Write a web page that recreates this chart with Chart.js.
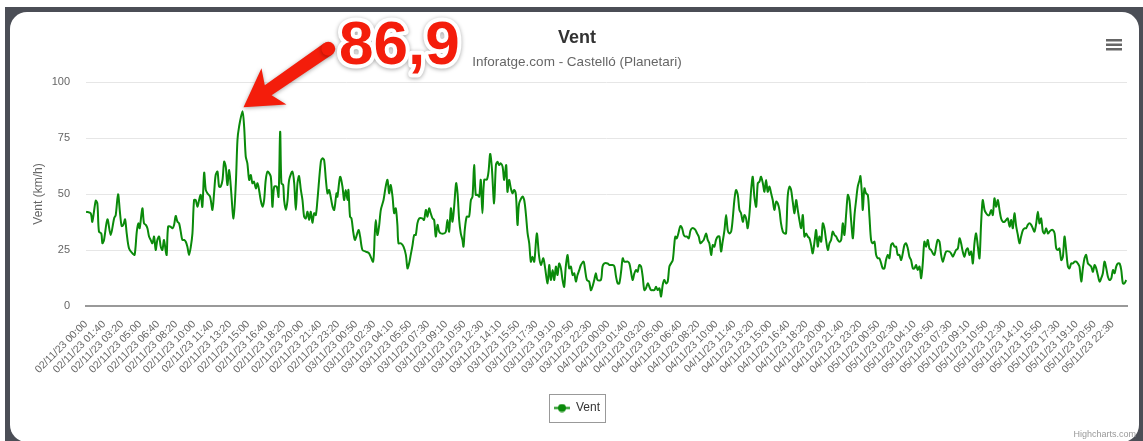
<!DOCTYPE html>
<html>
<head>
<meta charset="utf-8">
<script src="https://cdn.jsdelivr.net/npm/chart.js@4/dist/chart.umd.min.js"></script>
<style>
html, body { margin: 0; padding: 0; background: #fff; width: 1143px; height: 441px; overflow: hidden; }
#marco { position: absolute; left: 5px; top: 7px; right: 0; bottom: 0; background: #4b4e56; }
#tarjeta { position: absolute; left: 10px; top: 12px; width: 1129px; height: 430px; background: #fff; border-radius: 17px; }
#grafico { position: absolute; left: 0; top: 0; }
</style>
</head>
<body>
<div id="marco"></div>
<div id="tarjeta"></div>
<canvas id="grafico" width="1143" height="441"></canvas>
<script>
/* Etiquetas del eje X (una cada 10 lecturas) */
var etiquetas = [
  '02/11/23 00:00', '02/11/23 01:40', '02/11/23 03:20', '02/11/23 05:00', '02/11/23 06:40', '02/11/23 08:20', '02/11/23 10:00', '02/11/23 11:40',
  '02/11/23 13:20', '02/11/23 15:00', '02/11/23 16:40', '02/11/23 18:20', '02/11/23 20:00', '02/11/23 21:40', '02/11/23 23:20',
  '03/11/23 00:50', '03/11/23 02:30', '03/11/23 04:10', '03/11/23 05:50', '03/11/23 07:30', '03/11/23 09:10', '03/11/23 10:50',
  '03/11/23 12:30', '03/11/23 14:10', '03/11/23 15:50', '03/11/23 17:30', '03/11/23 19:10', '03/11/23 20:50', '03/11/23 22:30',
  '04/11/23 00:00', '04/11/23 01:40', '04/11/23 03:20', '04/11/23 05:00', '04/11/23 06:40', '04/11/23 08:20', '04/11/23 10:00', '04/11/23 11:40',
  '04/11/23 13:20', '04/11/23 15:00', '04/11/23 16:40', '04/11/23 18:20', '04/11/23 20:00', '04/11/23 21:40', '04/11/23 23:20',
  '05/11/23 00:50', '05/11/23 02:30', '05/11/23 04:10', '05/11/23 05:50', '05/11/23 07:30', '05/11/23 09:10', '05/11/23 10:50',
  '05/11/23 12:30', '05/11/23 14:10', '05/11/23 15:50', '05/11/23 17:30', '05/11/23 19:10', '05/11/23 20:50', '05/11/23 22:30'
];

/* Lecturas de viento: [número de lectura, km/h] */
var ventDia2 = [
  [0,42.1],[2.6,41.4],[3.5,37.6],[5.4,47.0],[6.3,45.8],[7.2,33.2],[8.5,32.4],[9.1,28.0],[10.0,29.5],[11.9,38.7],[13.7,31.7],[15.6,39.1],
  [16.5,40.6],[17.8,49.9],[18.9,41.4],[19.8,35.7],[20.7,36.2],[21.7,38.7],[22.6,32.4],[23.9,25.7],[25.8,23.5],[27.0,22.8],[28.2,33.2],
  [29.1,36.9],[29.8,34.7],[31.3,43.6],[32.2,36.9],[33.2,36.2],[34.1,34.7],[35.0,31.0],[35.9,29.5],[36.9,28.0],[37.8,31.0],[38.7,25.0],
  [39.6,29.5],[40.6,31.0],[41.5,26.5],[42.4,25.0],[43.3,29.5],[44.3,24.3],[44.8,22.8],[45.6,35.4],[47.0,35.4],[48.0,34.7],[48.9,36.2],
  [49.8,40.2],[50.8,37.6],[51.7,36.9],[52.6,33.2],[53.5,29.5],[54.5,29.5],[55.4,28.7],[56.3,26.5],[57.2,22.8],[58.2,26.5],[59.1,32.4],
  [60.0,47.3],[60.9,47.3],[61.9,44.3],[62.8,47.3],[63.7,49.6],[64.6,44.3],[65.6,59.5],[66.5,51.8],[67.4,50.3],[68.9,48.8],[70.2,42.9],
  [71.1,50.3],[72.0,58.5],[73.0,60.0],[73.9,53.3],[74.8,53.3],[75.8,56.3],[76.7,64.4],[77.6,62.2],[78.5,54.0],[79.5,60.7],[80.4,53.3],
  [81.9,39.1],[83.2,54.8],[84.1,74.1],[85.0,80.1],[86.9,86.9],[87.8,80.1],[88.7,66.7],[89.6,63.7],[90.6,56.3],[91.5,58.5],[92.4,54.8],
  [93.3,55.5],[94.3,52.5],[95.2,54.8],[96.1,51.8],[97.0,47.3],[98.0,44.3],[98.9,47.3],[99.8,56.3],[100.8,60.0],[102.6,57.7],[103.5,44.3],
  [104.5,53.3],[105.9,53.3],[106.9,48.8],[107.8,77.8],[108.5,54.8],[109.5,54.0],[110.0,47.3],[111.0,42.9],[111.9,47.3],[112.8,56.3],
  [114.6,60.0],[115.6,54.8],[116.5,42.9],[117.4,54.8],[118.3,58.0],[119.3,51.8],[120.2,47.3],[121.1,39.9],[122.0,39.1],[123.0,42.1],
  [123.9,38.4],[124.8,42.1],[125.7,37.2],[126.7,41.4],[127.6,40.6],[128.5,47.3],[130.4,64.4],[131.3,65.9],[132.2,65.2],[133.2,56.3],
  [134.1,50.3],[135.0,51.8],[136.9,44.3],[137.8,42.9],[139.1,50.3],[139.6,48.8],[141.1,57.7],[142.4,53.3]
];
var ventDia3 = [
  [143.3,47.3],[144.2,51.8],[145.2,47.3],[145.7,51.8],[146.6,39.9],[147.4,39.1],[148.5,32.4],[149.4,29.5],[151.3,33.9],[152.2,31.0],
  [153.5,25.0],[155.3,24.3],[157.2,23.5],[159.4,19.8],[160.3,31.7],[160.9,38.4],[161.8,31.7],[162.7,35.4],[163.7,42.9],[165.2,47.3],
  [166.4,53.3],[167.4,56.3],[168.3,50.3],[169.2,54.0],[170.2,48.8],[171.1,41.4],[172.0,43.6],[172.9,36.2],[173.5,28.0],[174.8,28.0],
  [176.3,26.5],[177.6,22.8],[178.5,16.8],[179.4,19.0],[180.3,22.8],[181.3,27.2],[182.2,31.7],[183.1,31.7],[184.0,36.9],[185.0,39.1],
  [186.8,39.1],[187.7,38.4],[188.7,42.9],[189.6,39.9],[190.5,43.6],[191.4,41.4],[192.4,39.1],[193.3,38.4],[194.2,31.0],[195.2,36.2],
  [196.1,33.2],[197.0,32.4],[198.9,32.4],[199.8,33.2],[200.7,38.4],[201.6,33.2],[202.6,43.6],[203.5,37.6],[204.4,44.3],[205.5,54.8],
  [206.3,50.3],[207.2,38.4],[208.1,32.4],[209.0,29.5],[209.6,26.5],[210.3,33.9],[211.4,39.9],[212.7,39.9],[213.7,47.3],[214.6,48.8],
  [215.5,62.9],[216.4,49.6],[217.4,49.6],[218.3,48.8],[219.2,56.3],[220.1,41.4],[221.1,56.3],[222.6,56.5],[223.5,60.0],[224.4,67.9],
  [225.3,62.2],[226.6,45.8],[227.6,62.9],[228.5,64.4],[229.4,62.9],[230.3,63.7],[231.3,62.2],[232.2,56.3],[233.3,62.9],[234.0,51.0],
  [234.9,56.3],[235.9,52.5],[236.8,50.3],[237.7,51.8],[238.7,49.6],[239.6,36.2],[240.5,45.8],[242.4,48.8],[243.3,47.3],[244.2,41.4],
  [245.2,32.4],[246.1,28.0],[247.0,19.8],[247.9,22.0],[248.9,19.8],[250.3,32.4],[251.6,22.0],[252.6,18.3],[253.9,21.3],[254.8,17.6],
  [256.3,10.1],[257.2,18.3],[258.1,11.6],[259.1,16.1],[260.0,11.6],[260.9,17.6],[261.8,13.8],[262.7,19.0],[263.7,16.8],[264.6,11.6],
  [265.5,8.6],[266.4,17.6],[267.4,22.8],[268.3,16.8],[269.2,17.6],[270.2,13.8],[271.1,14.6],[272.0,10.9],[272.9,13.8],[273.9,16.1],
  [274.8,18.3],[276.3,19.8],[277.0,16.8],[278.1,11.6],[279.4,10.9],[280.3,7.1],[281.2,8.6],[282.2,11.6],[283.1,14.6],[284.0,11.6],
  [285.9,11.6],[286.8,17.6]
];
var ventDia4 = [
  [287.8,19.0],[289.6,19.0],[290.6,18.3],[292.4,18.3],[293.4,17.6],[294.3,13.1],[295.2,10.1],[296.1,10.1],[297.1,15.3],[298.0,21.3],
  [298.9,19.8],[300.8,19.8],[301.7,19.0],[302.6,15.3],[303.5,11.6],[304.5,14.6],[305.4,16.1],[306.3,15.3],[307.2,18.3],[308.2,17.6],
  [309.1,13.1],[310.0,7.1],[310.9,7.9],[311.9,10.1],[312.8,8.6],[313.7,7.1],[314.7,7.1],[315.6,7.1],[316.5,8.6],[317.4,7.1],[318.4,7.9],
  [319.3,4.2],[320.2,9.4],[321.1,11.6],[322.1,10.1],[323.0,10.9],[323.9,17.6],[324.8,19.0],[325.8,20.5],[326.7,28.0],[327.2,31.0],
  [328.0,30.2],[328.9,32.4],[330.0,35.7],[331.0,34.7],[331.9,31.7],[332.8,31.0],[333.7,31.0],[334.7,30.2],[335.6,33.6],[336.5,34.7],
  [337.4,34.7],[338.4,33.9],[339.3,32.4],[340.2,31.0],[341.1,28.0],[342.1,28.7],[343.0,29.5],[344.3,32.4],[345.2,29.5],[346.1,28.0],
  [347.1,22.8],[348.0,27.2],[348.9,26.5],[349.8,29.5],[350.8,31.0],[351.7,31.0],[352.6,24.3],[353.5,28.7],[354.5,33.9],[355.4,40.6],
  [356.3,33.9],[357.2,32.4],[358.2,33.2],[359.1,39.1],[360.0,47.3],[360.9,51.8],[361.9,49.6],[362.8,42.9],[363.7,41.4],[364.7,37.6],
  [365.6,40.6],[366.5,39.1],[367.4,34.7],[368.4,41.4],[369.3,51.8],[370.2,57.7],[371.1,48.8],[372.1,44.3],[373.0,54.8],[373.9,55.5],
  [374.8,57.7],[375.8,54.8],[376.7,51.0],[377.6,56.3],[378.5,51.0],[379.5,53.3],[380.4,50.3],[381.3,47.3],[382.2,42.9],[383.2,46.6],
  [384.1,45.8],[385.0,42.9],[385.9,36.9],[386.9,33.2],[387.8,32.4],[388.7,32.4],[389.6,48.8],[390.6,53.3],[391.5,51.8],[392.4,46.6],
  [393.4,41.4],[394.3,47.3],[395.2,42.9],[396.1,38.4],[397.1,34.7],[398.0,40.6],[398.9,31.0],[399.8,32.4],[400.8,31.0],[401.7,30.2],
  [402.6,27.2],[403.5,23.5],[404.5,28.7],[405.4,33.9],[406.3,26.5],[407.2,31.0],[408.2,28.7],[409.1,36.9],[410.0,34.7],[410.9,29.5],
  [411.9,25.0],[412.8,28.0],[413.7,29.5],[414.6,33.2],[415.6,31.7],[416.5,31.0],[417.4,29.5],[418.4,28.7],[419.3,29.5],[420.2,36.9],
  [421.1,31.7],[422.1,41.4],[423.0,49.6],[423.9,47.3],[424.8,38.4],[425.8,30.2],[426.7,40.6],[427.6,47.3],[428.5,53.3],[429.5,56.3],
  [430.0,58.0],[430.8,50.3],[431.3,42.9]
];
var ventDia5 = [
  [432.2,52.5],[433.1,50.3],[434.1,49.6],[435.0,39.9],[435.9,29.5],[436.8,28.0],[437.8,28.7],[438.7,22.8],[439.6,21.3],[440.5,21.3],
  [441.5,19.0],[442.4,16.8],[443.3,16.8],[444.2,20.5],[445.2,22.8],[446.1,21.3],[447.0,27.2],[447.9,28.0],[448.9,26.5],[449.8,26.5],
  [450.7,22.8],[451.6,22.8],[452.6,20.5],[453.5,23.5],[454.4,27.2],[455.3,28.0],[456.3,25.7],[457.2,22.0],[458.1,20.5],[459.1,16.8],
  [460.0,16.8],[460.9,18.3],[461.8,16.1],[462.8,17.6],[463.7,12.4],[464.6,19.0],[465.5,28.7],[466.5,26.5],[467.4,29.5],[468.3,25.7],
  [469.2,25.0],[470.2,23.5],[471.1,22.8],[472.0,26.5],[472.9,29.5],[473.9,28.7],[474.8,22.8],[475.7,19.8],[476.6,22.0],[477.6,24.3],
  [479.4,24.3],[480.3,23.5],[481.3,22.0],[482.2,23.5],[483.1,25.0],[484.1,25.7],[485.0,30.2],[485.9,28.0],[486.8,24.3],[487.8,22.0],
  [488.7,25.0],[489.6,25.7],[490.5,22.8],[491.5,24.3],[492.4,19.0],[493.3,28.0],[494.2,32.4],[495.2,26.5],[496.1,21.3],[497.0,36.9],
  [497.9,47.3],[498.9,42.9],[499.8,41.4],[500.7,40.6],[501.6,40.6],[502.6,42.9],[503.5,40.6],[504.4,48.1],[505.3,44.3],[506.3,47.3],
  [507.2,42.9],[508.1,39.1],[509.1,37.6],[510.0,37.6],[510.9,38.4],[511.8,39.1],[512.8,35.4],[513.7,38.4],[514.6,34.7],[515.5,41.4],
  [516.5,35.4],[517.4,31.7],[518.3,28.0],[519.2,31.0],[520.2,33.9],[521.1,34.7],[522.0,34.7],[522.9,36.2],[523.9,36.9],[524.8,36.2],
  [525.7,34.7],[526.6,33.2],[527.6,36.9],[528.5,42.1],[529.4,36.9],[530.3,39.1],[531.3,33.2],[532.2,32.4],[533.1,34.7],[534.1,32.4],
  [535.0,33.2],[535.9,33.9],[536.8,33.9],[537.8,32.4],[538.7,25.7],[539.6,25.0],[540.5,25.7],[541.5,20.5],[542.4,22.0],[543.3,31.0],
  [544.2,25.0],[545.2,17.6],[546.1,16.8],[547.0,19.0],[547.9,19.0],[548.9,19.8],[549.8,19.8],[550.7,19.0],[551.6,17.6],[552.6,10.9],
  [553.5,16.8],[554.4,21.3],[555.3,22.8],[556.3,19.0],[557.2,18.3],[558.1,17.6],[559.1,15.3],[560.0,18.3],[560.9,16.8],[561.8,13.8],
  [562.8,10.9],[563.7,12.4],[564.6,14.6],[565.5,19.8],[566.5,16.8],[567.4,13.1],[568.3,11.6],[569.3,12.4],[570.2,16.1],[571.1,14.6],
  [572.0,17.6],[572.9,19.0],[573.9,19.0],[574.8,16.1],[575.7,10.1],[576.6,10.1],[577.6,11.6]
];
var ventLecturas = ventDia2.concat(ventDia3, ventDia4, ventDia5);

var verde = '#0a8a0a';
var fuente = '"Liberation Sans", Arial, Helvetica, sans-serif';
Chart.defaults.font.family = fuente;

/* Símbolo de la leyenda: línea con punto */
var simbolo = document.createElement('canvas');
simbolo.width = 16;
simbolo.height = 9;
var sctx = simbolo.getContext('2d');
sctx.strokeStyle = verde;
sctx.lineWidth = 2;
sctx.beginPath(); sctx.moveTo(0, 4.5); sctx.lineTo(16, 4.5); sctx.stroke();
sctx.fillStyle = verde;
sctx.beginPath(); sctx.arc(8, 4.5, 4, 0, 2 * Math.PI); sctx.fill();

/* Extras: caja de la leyenda, menú, créditos y la flecha del máximo */
var extras = {
  id: 'extras',
  afterDraw: function (chart) {
    var ctx = chart.ctx;
    ctx.save();

    // caja de la leyenda
    var hb = chart.legend.legendHitBoxes[0];
    if (hb) {
      ctx.strokeStyle = '#999';
      ctx.lineWidth = 1;
      ctx.strokeRect(Math.round(hb.left - 5) + 0.5, Math.round(hb.top - 8) + 0.5, Math.round(hb.width + 10), Math.round(hb.height + 16));
    }

    // menú
    ctx.fillStyle = '#666';
    [39, 43.5, 48].forEach(function (y) { ctx.fillRect(1106, y, 16, 2.5); });

    // créditos
    ctx.fillStyle = '#999';
    ctx.font = '9px ' + fuente;
    ctx.textAlign = 'right';
    ctx.textBaseline = 'alphabetic';
    ctx.fillText('Highcharts.com', 1136, 437);

    // máximo
    var imax = 0;
    ventLecturas.forEach(function (p, i) { if (p[1] > ventLecturas[imax][1]) imax = i; });
    var pico = chart.getDatasetMeta(0).data[imax];
    var tx = pico.x + 1, ty = pico.y - 4;
    var ux = 0.823, uy = -0.568, nx = 0.568, ny = 0.823;
    function pt(a, b) { return [tx + ux * a + nx * b, ty + uy * a + ny * b]; }
    var forma = [pt(0, 0), pt(37, -22), pt(30, -6), pt(103, -7), pt(103, 7), pt(30, 6), pt(37, 22)];
    ctx.shadowColor = 'rgba(0,0,0,0.35)';
    ctx.shadowBlur = 4;
    ctx.shadowOffsetY = 1;
    ctx.fillStyle = '#f41d0b';
    ctx.beginPath();
    forma.forEach(function (p, i) { if (i === 0) ctx.moveTo(p[0], p[1]); else ctx.lineTo(p[0], p[1]); });
    ctx.closePath();
    ctx.fill();
    var cola = pt(103, 0);
    ctx.beginPath(); ctx.arc(cola[0], cola[1], 7, 0, 2 * Math.PI); ctx.fill();

    ctx.font = 'bold 62px ' + fuente;
    ctx.textAlign = 'left';
    ctx.lineJoin = 'round';
    ctx.strokeStyle = '#fff';
    ctx.lineWidth = 8;
    ctx.strokeText('86,9', 339, 64);
    ctx.shadowColor = 'transparent';
    ctx.fillStyle = '#f41d0b';
    ctx.fillText('86,9', 339, 64);
    ctx.restore();
  }
};

var grafico = new Chart(document.getElementById('grafico').getContext('2d'), {
  type: 'line',
  data: {
    datasets: [{
      label: 'Vent',
      data: ventLecturas.map(function (p) { return { x: p[0], y: p[1] }; }),
      borderColor: verde,
      backgroundColor: verde,
      borderWidth: 2,
      pointRadius: 0,
      tension: 0.3,
      fill: false
    }]
  },
  options: {
    responsive: false,
    animation: false,
    devicePixelRatio: 1,
    layout: { padding: { left: 27, right: 16, top: 0, bottom: 17 } },
    plugins: {
      title: {
        display: true, text: 'Vent', color: '#333',
        font: { size: 18, weight: 'bold' }, padding: { top: 27, bottom: 6 }
      },
      subtitle: {
        display: true, text: 'Inforatge.com - Castelló (Planetari)', color: '#666',
        font: { size: 13.5 }, padding: { top: 0, bottom: 11.2 }
      },
      legend: {
        position: 'bottom',
        labels: { usePointStyle: true, pointStyle: simbolo, pointStyleWidth: 16, color: '#333', font: { size: 12 }, padding: 10 }
      },
      tooltip: { enabled: false }
    },
    scales: {
      x: {
        type: 'linear', min: 0, max: 578,
        grid: { display: false },
        border: { color: '#999', width: 2 },
        ticks: {
          stepSize: 10, autoSkip: false, includeBounds: false,
          minRotation: 45, maxRotation: 45, padding: 4,
          color: '#666', font: { size: 10.5 },
          callback: function (v) { return etiquetas[Math.round(v / 10)]; }
        },
        afterFit: function (s) { s.height = 86; }
      },
      y: {
        min: 0, max: 100,
        grid: { color: '#e6e6e6', drawTicks: false },
        border: { display: false },
        ticks: { stepSize: 25, padding: 16, color: '#666', font: { size: 11 } },
        title: { display: true, text: 'Vent (km/h)', color: '#666', font: { size: 12 } },
        afterFit: function (s) { s.width = 59; }
      }
    }
  },
  plugins: [extras]
});
</script>
</body>
</html>
